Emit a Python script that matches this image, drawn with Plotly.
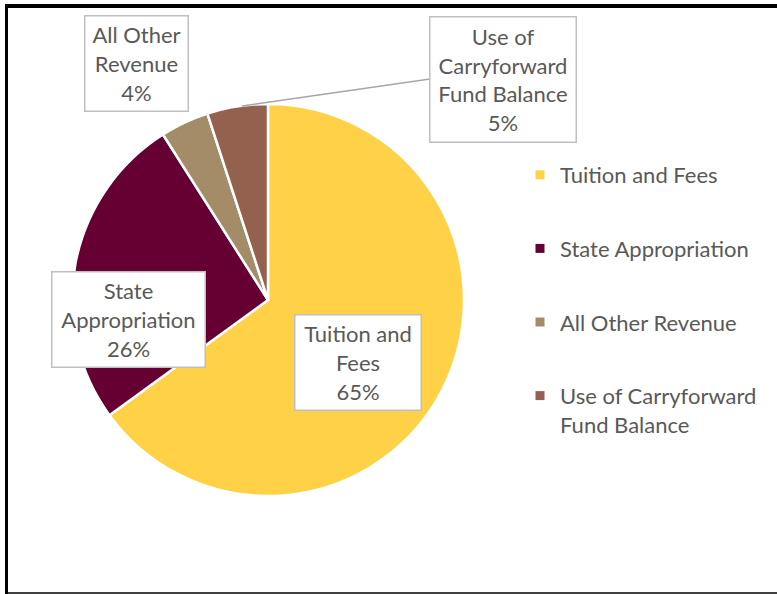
import plotly.graph_objects as go

W, H = 777, 594

labels = ["Tuition and Fees", "State Appropriation", "All Other Revenue",
          "Use of Carryforward Fund Balance"]
values = [65, 26, 4, 5]
colors = ["#FFD147", "#660033", "#A48C69", "#94614F"]
box_names = ["Tuition and<br>Fees", "State<br>Appropriation",
             "All Other<br>Revenue", "Use of<br>Carryforward<br>Fund Balance"]
legend_names = ["Tuition and Fees", "State Appropriation", "All Other Revenue",
                "Use of Carryforward<br>Fund Balance"]

# label boxes: centre x, centre y, width, height (pixels from top-left)
boxes = [(357.5, 362, 127, 96), (128, 319, 154, 96),
         (136, 64, 104, 96), (503.5, 79, 147, 126)]

FONT = "Lato"
TEXT = "#595959"


def px(x, y):
    return x / W, 1 - y / H


fig = go.Figure()
fig.add_trace(go.Pie(
    labels=labels,
    values=values,
    sort=False,
    direction="clockwise",
    rotation=0,
    textinfo="none",
    marker=dict(colors=colors, line=dict(color="white", width=2.5)),
    showlegend=False,
    domain=dict(x=[72 / W, 464 / W], y=[1 - 496 / H, 1 - 104 / H]),
))

# legend entries (one group each, so the gap between them can be set)
for name, c in zip(legend_names, colors):
    fig.add_trace(go.Scatter(
        x=[None], y=[None], mode="markers", name=name, legendgroup=name,
        marker=dict(symbol="square", size=9, color=c),
    ))

for (cx, cy, bw, bh), name, v in zip(boxes, box_names, values):
    x, y = px(cx, cy)
    fig.add_annotation(
        x=x, y=y, xref="paper", yref="paper", xanchor="center", yanchor="middle",
        text=f"{name}<br>{v}%", showarrow=False, width=bw - 2, height=bh - 2,
        bgcolor="white", bordercolor="#BFBFBF", borderwidth=1.5, borderpad=0,
        font=dict(family=FONT, size=22, color=TEXT),
    )

x0, y0 = px(242, 106)
x1, y1 = px(430, 79)
fig.add_shape(type="line", xref="paper", yref="paper", x0=x0, y0=y0, x1=x1, y1=y1,
              line=dict(color="#A6A6A6", width=1.5))

# outer frame
fig.add_shape(type="line", xref="paper", yref="paper", x0=6.5 / W, x1=1.05,
              y0=1 - 6 / H, y1=1 - 6 / H, line=dict(color="black", width=4))
fig.add_shape(type="line", xref="paper", yref="paper", x0=6.5 / W, x1=6.5 / W,
              y0=1 - 4 / H, y1=-0.01, line=dict(color="black", width=3))
fig.add_shape(type="line", xref="paper", yref="paper", x0=6.5 / W, x1=1.05,
              y0=1 - 593 / H, y1=1 - 593 / H, line=dict(color="black", width=1.5))

fig.update_xaxes(visible=False)
fig.update_yaxes(visible=False)
fig.update_layout(
    width=W, height=H,
    margin=dict(l=0, r=0, t=0, b=0),
    paper_bgcolor="white", plot_bgcolor="white",
    font=dict(family=FONT, color=TEXT),
    legend=dict(
        x=520 / W, y=1 - 154 / H, xanchor="left", yanchor="top",
        font=dict(family=FONT, size=22, color=TEXT),
        tracegroupgap=42, valign="top", bgcolor="rgba(0,0,0,0)",
    ),
)

fig.write_html("out.html", config={"displayModeBar": False},
               post_script="document.body.style.margin='0';")
